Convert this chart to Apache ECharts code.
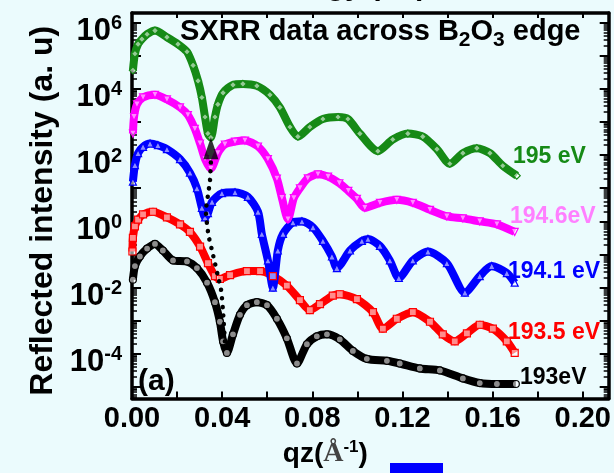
<!DOCTYPE html>
<html>
<head>
<meta charset="utf-8">
<script src="https://cdn.jsdelivr.net/npm/echarts@6/dist/echarts.min.js"></script>
<style>
  html, body { margin: 0; padding: 0; background: #ebfbfd; }
  #chart { width: 614px; height: 473px; }
</style>
</head>
<body>
<div id="chart"></div>
<script>
// qz in 1/Å, intensity stored as log10 (a. u.)
const qz195 = [0.0004, 0.0013, 0.0027, 0.0044, 0.0067, 0.0102, 0.0155, 0.0204, 0.0244, 0.0271, 0.0293, 0.0310, 0.0324, 0.0337, 0.0350, 0.0368, 0.0381, 0.0404, 0.0448, 0.0492, 0.0554, 0.0612, 0.0656, 0.0701, 0.0736, 0.0789, 0.0847, 0.0914, 0.0958, 0.1011, 0.1091, 0.1157, 0.1224, 0.1290, 0.1353, 0.1410, 0.1468, 0.1530, 0.1588, 0.1645, 0.1707];
const lg195 = [4.56, 5.06, 5.35, 5.50, 5.65, 5.76, 5.56, 5.35, 5.12, 4.71, 4.24, 3.74, 3.15, 2.65, 2.53, 3.15, 3.53, 3.88, 4.12, 4.15, 4.09, 3.82, 3.44, 2.85, 2.56, 2.85, 3.09, 3.15, 3.09, 2.65, 2.12, 2.47, 2.65, 2.56, 2.18, 1.74, 2.06, 2.21, 2.06, 1.68, 1.38];

const qz1946 = [0.0004, 0.0009, 0.0022, 0.0049, 0.0102, 0.0155, 0.0213, 0.0248, 0.0279, 0.0302, 0.0324, 0.0350, 0.0381, 0.0412, 0.0457, 0.0501, 0.0559, 0.0603, 0.0643, 0.0665, 0.0692, 0.0718, 0.0745, 0.0780, 0.0825, 0.0870, 0.0920, 0.0960, 0.0998, 0.1033, 0.1100, 0.1175, 0.1246, 0.1322, 0.1397, 0.1468, 0.1543, 0.1619, 0.1698];
const lg1946 = [2.65, 3.15, 3.53, 3.74, 3.82, 3.68, 3.44, 3.21, 2.79, 2.35, 1.88, 1.59, 2.06, 2.32, 2.41, 2.44, 2.26, 1.88, 1.29, 0.71, 0.06, 0.70, 1.00, 1.30, 1.42, 1.35, 1.15, 0.92, 0.68, 0.41, 0.56, 0.65, 0.56, 0.35, 0.15, 0.09, 0.00, -0.09, -0.32];

const qz1941 = [0.0004, 0.0013, 0.0027, 0.0049, 0.0080, 0.0115, 0.0155, 0.0213, 0.0257, 0.0288, 0.0310, 0.0324, 0.0337, 0.0355, 0.0399, 0.0457, 0.0514, 0.0559, 0.0576, 0.0603, 0.0625, 0.0647, 0.0670, 0.0714, 0.0754, 0.0803, 0.0847, 0.0887, 0.0909, 0.0967, 0.1020, 0.1047, 0.1100, 0.1144, 0.1184, 0.1246, 0.1313, 0.1397, 0.1477, 0.1543, 0.1596, 0.1663, 0.1698];
const lg1941 = [1.20, 1.70, 2.06, 2.25, 2.35, 2.30, 2.18, 1.88, 1.47, 1.00, 0.41, 0.12, 0.25, 0.59, 0.85, 0.88, 0.74, 0.29, -0.38, -1.18, -2.00, -0.88, -0.38, -0.03, 0.00, -0.18, -0.59, -1.06, -1.41, -0.88, -0.59, -0.53, -0.74, -1.18, -1.71, -1.18, -0.91, -1.26, -2.15, -1.65, -1.35, -1.56, -1.85];

const qz1935 = [0.0002, 0.0004, 0.0013, 0.0027, 0.0049, 0.0093, 0.0155, 0.0213, 0.0257, 0.0302, 0.0337, 0.0368, 0.0390, 0.0435, 0.0510, 0.0568, 0.0625, 0.0687, 0.0745, 0.0789, 0.0834, 0.0891, 0.0922, 0.0998, 0.1069, 0.1113, 0.1175, 0.1246, 0.1322, 0.1379, 0.1432, 0.1486, 0.1543, 0.1601, 0.1663, 0.1698];
const lg1935 = [-0.91, -0.50, -0.15, 0.05, 0.21, 0.29, 0.12, -0.09, -0.32, -0.76, -1.26, -1.65, -1.74, -1.62, -1.50, -1.50, -1.65, -1.94, -2.38, -2.68, -2.50, -2.24, -2.20, -2.35, -2.74, -3.24, -2.94, -2.74, -3.03, -3.41, -3.62, -3.38, -3.12, -3.24, -3.62, -3.97];

const qz193 = [0.0004, 0.0013, 0.0035, 0.0067, 0.0102, 0.0137, 0.0182, 0.0244, 0.0288, 0.0333, 0.0368, 0.0390, 0.0404, 0.0421, 0.0448, 0.0479, 0.0510, 0.0554, 0.0599, 0.0643, 0.0687, 0.0732, 0.0776, 0.0820, 0.0865, 0.0922, 0.0980, 0.1042, 0.1131, 0.1188, 0.1277, 0.1366, 0.1468, 0.1543, 0.1619, 0.1703];
const lg193 = [-1.76, -1.35, -1.06, -0.82, -0.68, -0.88, -1.18, -1.21, -1.41, -1.85, -2.44, -3.03, -3.62, -3.97, -3.41, -2.82, -2.53, -2.44, -2.53, -2.94, -3.53, -4.29, -3.71, -3.47, -3.41, -3.56, -3.91, -4.15, -4.21, -4.29, -4.44, -4.50, -4.74, -4.88, -4.91, -4.91];

// dotted guide through the first minima, arrow at its top
const qzGuide = [0.0412, 0.0404, 0.0395, 0.0381, 0.0368, 0.0355, 0.0341, 0.0333, 0.0328, 0.0337, 0.0346, 0.0350];
const lgGuide = [-3.62, -2.74, -2.06, -1.65, -1.26, -0.88, -0.47, -0.09, 0.29, 0.79, 1.24, 1.82];
const arrowHead = [0.0350, 2.21];

const xLabels = [0, 0.04, 0.08, 0.12, 0.16, 0.20];
const xTicks = [0, 0.02, 0.04, 0.06, 0.08, 0.10, 0.12, 0.14, 0.16, 0.18, 0.20];
const yLabelExp = [-4, -2, 0, 2, 4, 6];
const yDecades = [-5, -4, -3, -2, -1, 0, 1, 2, 3, 4, 5, 6];

const Y_MIN = -5.35, Y_MAX = 6.29;
const yMinor = [];
for (let n = -6; n <= 6; n++) {
  for (let k = 2; k <= 9; k++) {
    const v = n + Math.log10(k);
    if (v > Y_MIN && v < Y_MAX) yMinor.push(v);
  }
}

const BG = '#ebfbfd';
const FONT = '"Liberation Sans", Arial, sans-serif';

const pairs = (xs, ys) => xs.map((x, i) => [x, ys[i]]);

function curve(name, xs, ys, color, symbol, rotate) {
  return {
    type: 'line',
    name: name,
    data: pairs(xs, ys),
    smooth: 0.25,
    symbol: symbol,
    symbolRotate: rotate || 0,
    symbolSize: 7,
    showAllSymbol: true,
    lineStyle: {color: color, width: 8},
    itemStyle: {color: 'rgba(255,255,255,0.55)', borderColor: color, borderWidth: 1.2},
    silent: true,
  };
}

const axisLine = {show: true, onZero: false, lineStyle: {color: '#000', width: 3.5}};

const option = {
  backgroundColor: BG,
  animation: false,
  grid: {left: 132, right: 5, top: 13, bottom: 64},
  xAxis: [
    {
      type: 'value', position: 'bottom', min: 0, max: 0.2115,
      axisLine: axisLine,
      axisTick: {inside: true, length: 7, lineStyle: {color: '#000', width: 2}, customValues: xTicks},
      axisLabel: {
        customValues: xLabels, margin: 6,
        formatter: v => v.toFixed(2),
        fontSize: 29, fontWeight: 'bold', color: '#000', fontFamily: FONT,
      },
      splitLine: {show: false},
      name: '{b|qz(}{a|Å}{s|-1}{b|)}',
      nameLocation: 'middle', nameGap: 31,
      nameTextStyle: {
        padding: [0, 90, 0, 0],
        rich: {
          b: {fontSize: 28, fontWeight: 'bold', color: '#000', fontFamily: FONT},
          a: {fontSize: 28, fontWeight: 'bold', color: '#444', fontFamily: '"Liberation Serif", serif'},
          s: {fontSize: 17, fontWeight: 'bold', color: '#000', fontFamily: FONT, padding: [0, 0, 14, 0]},
        },
      },
    },
    {
      type: 'value', position: 'top', min: 0, max: 0.2115,
      axisLine: axisLine,
      axisTick: {inside: true, length: 5, lineStyle: {color: '#000', width: 2}, customValues: xTicks},
      axisLabel: {show: false},
      splitLine: {show: false},
    },
  ],
  yAxis: [
    {
      type: 'value', position: 'left', offset: 0, min: Y_MIN, max: Y_MAX,
      axisLine: axisLine,
      axisTick: {inside: true, length: 9, lineStyle: {color: '#000', width: 2}, customValues: yDecades},
      axisLabel: {
        customValues: yLabelExp, margin: 10, padding: [10, 0, 0, 0],
        formatter: v => '{b|10}{s|' + v + '}',
        rich: {
          b: {fontSize: 31, fontWeight: 'bold', color: '#000', fontFamily: FONT, padding: [8, 0, 0, 0]},
          s: {fontSize: 20, fontWeight: 'bold', color: '#000', fontFamily: FONT, padding: [0, 0, 8, 0]},
        },
      },
      splitLine: {show: false},
      name: 'Reflected intensity (a. u)',
      nameLocation: 'middle', nameGap: 70,
      nameTextStyle: {fontSize: 32, fontWeight: 'bold', color: '#000', fontFamily: FONT, padding: [0, 10, 0, 0]},
    },
    {
      type: 'value', position: 'left', offset: 0, min: Y_MIN, max: Y_MAX,
      axisLine: {show: false, onZero: false},
      axisTick: {inside: true, length: 5, lineStyle: {color: '#000', width: 1.5}, customValues: yMinor},
      axisLabel: {show: false},
      splitLine: {show: false},
    },
    {
      type: 'value', position: 'right', offset: 0, min: Y_MIN, max: Y_MAX,
      axisLine: axisLine,
      axisTick: {inside: true, length: 9, lineStyle: {color: '#000', width: 2}, customValues: yDecades},
      axisLabel: {show: false},
      splitLine: {show: false},
    },
    {
      type: 'value', position: 'right', offset: 0, min: Y_MIN, max: Y_MAX,
      axisLine: {show: false, onZero: false},
      axisTick: {inside: true, length: 5, lineStyle: {color: '#000', width: 1.5}, customValues: yMinor},
      axisLabel: {show: false},
      splitLine: {show: false},
    },
  ],
  series: [
    curve('193eV', qz193, lg193, '#000000', 'circle'),
    curve('193.5 eV', qz1935, lg1935, '#ff0000', 'rect'),
    curve('194.1 eV', qz1941, lg1941, '#0000ff', 'triangle'),
    curve('194.6eV', qz1946, lg1946, '#ff00ff', 'triangle', 180),
    curve('195 eV', qz195, lg195, '#168a16', 'diamond'),
    {
      type: 'line', data: pairs(qzGuide, lgGuide), smooth: 0.3, symbol: 'none',
      lineStyle: {color: '#000', width: 4.5, type: [0.1, 8.5], cap: 'round'},
      silent: true, z: 5,
    },
    {
      type: 'scatter', data: [arrowHead], symbol: 'triangle', symbolSize: [15, 22],
      itemStyle: {color: '#000'}, silent: true, z: 6,
    },
  ],
  graphic: [
    {
      type: 'text', x: 260, y: -13, z: 100,
      style: {text: 'Energy (eV)', font: 'bold 30px ' + FONT, fill: '#000', textVerticalAlign: 'middle'},
    },
    {
      type: 'text', x: 180, y: 32, z: 100,
      style: {
        text: '{m|SXRR data across B}{s|2}{m|O}{s|3}{m| edge}',
        textVerticalAlign: 'middle',
        rich: {
          m: {fontSize: 29, fontWeight: 'bold', fill: '#000', fontFamily: FONT},
          s: {fontSize: 21, fontWeight: 'bold', fill: '#000', fontFamily: FONT, padding: [16, 0, 0, 0]},
        },
      },
    },
    {type: 'text', x: 513, y: 157, z: 100, style: {text: '195 eV', font: 'bold 23px ' + FONT, fill: '#168a16', textVerticalAlign: 'middle'}},
    {type: 'text', x: 510, y: 217, z: 100, style: {text: '194.6eV', font: 'bold 23px ' + FONT, fill: '#ff80ff', textVerticalAlign: 'middle'}},
    {type: 'text', x: 508, y: 272, z: 100, style: {text: '194.1 eV', font: 'bold 23px ' + FONT, fill: '#0000ff', textVerticalAlign: 'middle'}},
    {type: 'text', x: 508, y: 333, z: 100, style: {text: '193.5 eV', font: 'bold 23px ' + FONT, fill: '#ff0000', textVerticalAlign: 'middle'}},
    {type: 'text', x: 520, y: 378, z: 100, style: {text: '193eV', font: 'bold 23px ' + FONT, fill: '#000', textVerticalAlign: 'middle'}},
    {type: 'text', x: 138, y: 382, z: 100, style: {text: '(a)', font: 'bold 30px ' + FONT, fill: '#000', textVerticalAlign: 'middle'}},
    {type: 'rect', z: 100, shape: {x: 390, y: 463, width: 53, height: 10}, style: {fill: '#0000ff'}},
  ],
};

const chart = echarts.init(document.getElementById('chart'), null, {renderer: 'canvas'});
chart.setOption(option);
</script>
</body>
</html>
